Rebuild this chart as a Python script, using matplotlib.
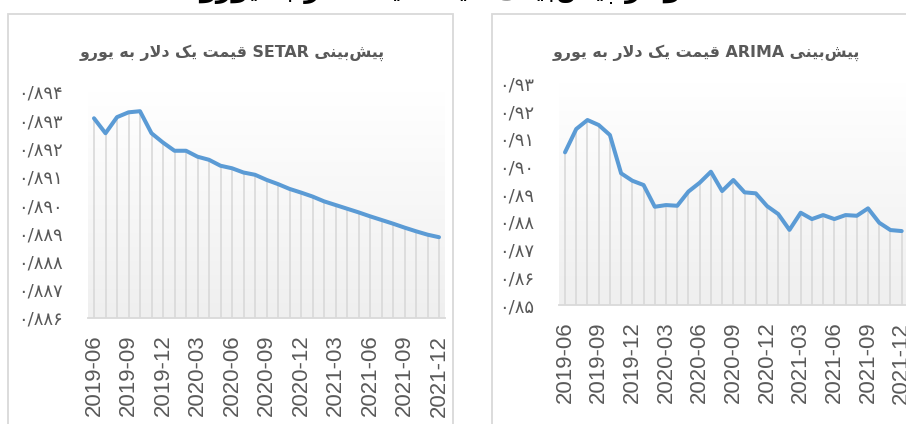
import matplotlib
matplotlib.use('Agg')
import matplotlib.pyplot as plt
import numpy as np
from matplotlib.patches import Rectangle
from matplotlib.ticker import FuncFormatter, MultipleLocator

# ---------------- data ----------------
months = ['2019-06', '2019-07', '2019-08', '2019-09', '2019-10', '2019-11', '2019-12',
          '2020-01', '2020-02', '2020-03', '2020-04', '2020-05', '2020-06', '2020-07',
          '2020-08', '2020-09', '2020-10', '2020-11', '2020-12', '2021-01', '2021-02',
          '2021-03', '2021-04', '2021-05', '2021-06', '2021-07', '2021-08', '2021-09',
          '2021-10', '2021-11', '2021-12']

setar = [0.89307, 0.89254, 0.89311, 0.89328, 0.89332, 0.89254, 0.89221, 0.89192,
         0.89192, 0.89171, 0.89160, 0.89139, 0.89130, 0.89115, 0.89107, 0.89089,
         0.89074, 0.89057, 0.89044, 0.89030, 0.89013, 0.89000, 0.88987, 0.88974,
         0.88960, 0.88947, 0.88934, 0.88920, 0.88907, 0.88895, 0.88886]

arima = [0.90509, 0.91350, 0.91675, 0.91495, 0.91134, 0.89751, 0.89484, 0.89329,
         0.88545, 0.88606, 0.88581, 0.89094, 0.89412, 0.89809, 0.89112, 0.89510,
         0.89065, 0.89029, 0.88570, 0.88282, 0.87710, 0.88329, 0.88101, 0.88245,
         0.88101, 0.88245, 0.88220, 0.88487, 0.87968, 0.87704, 0.87668]

setar_title = 'پیش‌بینی SETAR قیمت یک دلار به یورو'
arima_title = 'پیش‌بینی ARIMA قیمت یک دلار به یورو'
main_title = 'نمودار پیش‌بینی قیمت یک دلار به یورو'

# ---------------- simple Persian shaping ----------------
FORMS = {
    '\u0627': ('\uFE8D', '\uFE8E', None, None),
    '\u0628': ('\uFE8F', '\uFE90', '\uFE91', '\uFE92'),
    '\u062A': ('\uFE95', '\uFE96', '\uFE97', '\uFE98'),
    '\u062F': ('\uFEA9', '\uFEAA', None, None),
    '\u0631': ('\uFEAD', '\uFEAE', None, None),
    '\u0632': ('\uFEAF', '\uFEB0', None, None),
    '\u0633': ('\uFEB1', '\uFEB2', '\uFEB3', '\uFEB4'),
    '\u0634': ('\uFEB5', '\uFEB6', '\uFEB7', '\uFEB8'),
    '\u0642': ('\uFED5', '\uFED6', '\uFED7', '\uFED8'),
    '\u0644': ('\uFEDD', '\uFEDE', '\uFEDF', '\uFEE0'),
    '\u0645': ('\uFEE1', '\uFEE2', '\uFEE3', '\uFEE4'),
    '\u0646': ('\uFEE5', '\uFEE6', '\uFEE7', '\uFEE8'),
    '\u0647': ('\uFEE9', '\uFEEA', '\uFEEB', '\uFEEC'),
    '\u0648': ('\uFEED', '\uFEEE', None, None),
    '\u06CC': ('\uFBFC', '\uFBFD', '\uFBFE', '\uFBFF'),
    '\u067E': ('\uFB56', '\uFB57', '\uFB58', '\uFB59'),
    '\u06A9': ('\uFB8E', '\uFB8F', '\uFB90', '\uFB91'),
}
LAM, ALEF, ZWNJ = '\u0644', '\u0627', '\u200c'


def _dual(c):
    return c in FORMS and FORMS[c][2] is not None


def shape_word(w):
    out, i, n = [], 0, len(w)
    while i < n:
        c = w[i]
        if c == ZWNJ:
            i += 1
            continue
        if c not in FORMS:
            out.append(c)
            i += 1
            continue
        jp = i > 0 and _dual(w[i - 1])
        if c == LAM and i + 1 < n and w[i + 1] == ALEF:
            out.append('\uFEFC' if jp else '\uFEFB')
            i += 2
            continue
        jn = _dual(c) and i + 1 < n and w[i + 1] in FORMS
        iso, fin, ini, med = FORMS[c]
        if jp and jn:
            out.append(med)
        elif jp:
            out.append(fin)
        elif jn:
            out.append(ini)
        else:
            out.append(iso)
        i += 1
    return ''.join(out)


def rtl(s):
    words = s.split(' ')
    vis = []
    for w in reversed(words):
        if any('\u0600' <= ch <= '\u06FF' for ch in w):
            vis.append(shape_word(w)[::-1])
        else:
            vis.append(w)
    return ' '.join(vis)


FA_DIGITS = str.maketrans('0123456789.', '۰۱۲۳۴۵۶۷۸۹/')


def fa_fmt(dec):
    return FuncFormatter(lambda v, p: (f'{v:.{dec}f}').translate(FA_DIGITS))


# ---------------- figure ----------------
plt.rcParams['font.family'] = ['DejaVu Sans']
W, H = 906, 424
fig = plt.figure(figsize=(W / 100, H / 100), dpi=100)

GRAY_TXT = '#595959'
BORDER = '#d9d9d9'
BLUE = '#5B9BD5'

# panel frames
fig.add_artist(Rectangle((8 / W, -0.1), (453 - 8) / W, 1.1 - 14 / H, transform=fig.transFigure,
                         fill=False, edgecolor=BORDER, lw=1.3))
fig.add_artist(Rectangle((492 / W, -0.1), 0.6, 1.1 - 14 / H, transform=fig.transFigure,
                         fill=False, edgecolor=BORDER, lw=1.3))


def px_rect(x0, x1, ytop, ybot):
    return [x0 / W, 1 - ybot / H, (x1 - x0) / W, (ybot - ytop) / H]


grad = np.linspace(0.937, 1.0, 256).reshape(-1, 1)
grad = np.dstack([grad, grad, grad])


def draw_panel(rect, values, ylo, yhi, step, dec):
    ax = fig.add_axes(rect)
    x = np.arange(len(values))
    ax.imshow(grad, extent=[0, 1, 0, 1], transform=ax.transAxes, aspect='auto',
              origin='lower', zorder=0, interpolation='bilinear')
    ax.vlines(x, ylo, values, colors=BORDER, lw=1.2, zorder=1)
    ax.plot(x, values, color=BLUE, lw=2.9, solid_joinstyle='round',
            solid_capstyle='round', zorder=3)
    ax.set_xlim(-0.5, len(values) - 0.5)
    ax.set_ylim(ylo, yhi)
    ax.yaxis.set_major_locator(MultipleLocator(step))
    ax.yaxis.set_major_formatter(fa_fmt(dec))
    ax.set_xticks(x[::3])
    ax.set_xticklabels(months[::3], rotation=90, fontfamily='Liberation Sans',
                       fontsize=16, color=GRAY_TXT)
    for s in ['top', 'right', 'left']:
        ax.spines[s].set_visible(False)
    ax.spines['bottom'].set_color(BORDER)
    ax.spines['bottom'].set_linewidth(1.3)
    ax.spines['bottom'].set_zorder(2)
    ax.tick_params(axis='x', length=0, pad=12)
    ax.tick_params(axis='y', length=0, pad=18, labelsize=13, labelcolor=GRAY_TXT)
    ax.set_facecolor('none')
    return ax


ax1 = draw_panel(px_rect(88.25, 444.75, 92, 318), setar, 0.886, 0.894, 0.001, 3)
ax2 = draw_panel(px_rect(559.4, 907.3, 83.3, 305), arima, 0.85, 0.93, 0.01, 2)

fig.text(232 / W, 1 - 53 / H, rtl(setar_title), ha='center', va='center',
         fontsize=11.4, fontweight='bold', color=GRAY_TXT)
fig.text(706 / W, 1 - 53 / H, rtl(arima_title), ha='center', va='center',
         fontsize=11.4, fontweight='bold', color=GRAY_TXT)
fig.text(454 / W, 1 + 3 / H, rtl(main_title), ha='center', va='baseline',
         fontsize=19.5, fontweight='bold', color='black')

fig.savefig('out.png', dpi=100)
